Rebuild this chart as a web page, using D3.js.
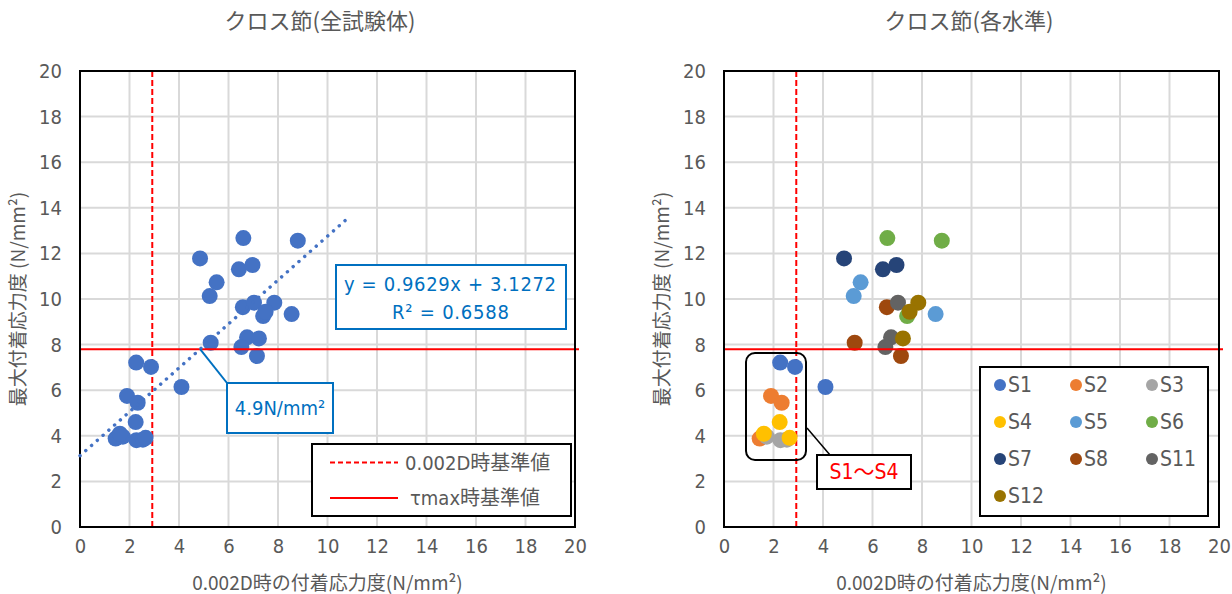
<!DOCTYPE html>
<html>
<head>
<meta charset="utf-8">
<script src="https://cdn.jsdelivr.net/npm/d3@7"></script>
<style>
  html, body { margin: 0; padding: 0; background: #ffffff; }
  svg { display: block; }
  text { font-family: "DejaVu Sans", "Noto Sans CJK JP", sans-serif; font-stretch: condensed; fill: #595959; }
  .cjk { font-family: "Noto Sans CJK JP", sans-serif; font-stretch: normal; }
</style>
</head>
<body>
<svg id="chart" width="1232" height="594"></svg>
<script>
// Series names and their colours
const seriesNames = ["S1", "S2", "S3", "S4", "S5", "S6", "S7", "S8", "S11", "S12"];
const seriesColors = ["#4472C4", "#ED7D31", "#A5A5A5", "#FFC000", "#5B9BD5",
                      "#70AD47", "#264478", "#9E480E", "#636363", "#997300"];

// Bond stress at 0.002D (x) and maximum bond stress (y), N/mm², per series
const xS1 = [2.27, 2.87, 4.10];   const yS1 = [7.21, 7.02, 6.14];
const xS2 = [1.90, 2.33, 1.44];   const yS2 = [5.75, 5.45, 3.88];
const xS3 = [1.73, 2.28, 2.54];   const yS3 = [3.96, 3.81, 3.83];
const xS4 = [2.25, 1.61, 2.65];   const yS4 = [4.60, 4.09, 3.91];
const xS5 = [5.52, 5.24, 8.55];   const yS5 = [10.73, 10.13, 9.34];
const xS6 = [6.60, 8.80, 7.40];   const yS6 = [12.67, 12.56, 9.25];
const xS7 = [4.85, 6.42, 6.97];   const yS7 = [11.78, 11.30, 11.49];
const xS8 = [6.58, 5.28, 7.15];   const yS8 = [9.64, 8.08, 7.50];
const xS11 = [7.03, 6.75, 6.52];  const yS11 = [9.84, 8.32, 7.89];
const xS12 = [7.85, 7.50, 7.23];  const yS12 = [9.84, 9.44, 8.27];

const xSeries = [xS1, xS2, xS3, xS4, xS5, xS6, xS7, xS8, xS11, xS12];
const ySeries = [yS1, yS2, yS3, yS4, yS5, yS6, yS7, yS8, yS11, yS12];

// Axis ticks
const tickValues = [0, 2, 4, 6, 8, 10, 12, 14, 16, 18, 20];

// Reference values and linear fit
const refX = 2.92;          // 0.002D reference value
const refY = 7.8;           // τmax reference value
const slope = 0.9629;
const intercept = 3.1272;
const trendRange = [0, 10.75];
const crossLabel = "4.9N/mm²";
const eqLine1 = "y = 0.9629x + 3.1272";
const eqLine2 = "R² = 0.6588";

const titles = ["クロス節(全試験体)", "クロス節(各水準)"];
const xTitle = "0.002D時の付着応力度(N/mm²)";
const yTitle = "最大付着応力度 (N/mm²)";
const legendRefLabels = ["0.002D時基準値", "τmax時基準値"];
const groupLabel = "S1～S4";

const svg = d3.select("#chart");
const plotTop = 71, plotBottom = 527, plotW = 495;

const points = [];
seriesNames.forEach((name, i) => {
  xSeries[i].forEach((xv, j) => points.push({ s: i, x: xv, y: ySeries[i][j] }));
});

function styleTicks(sel) {
  sel.selectAll("text").attr("font-size", 20).attr("fill", "#595959")
    .style("font-family", '"DejaVu Sans", sans-serif').style("font-stretch", "condensed");
}

function panel(x0, idx, titleX) {
  const g = svg.append("g");
  const x = d3.scaleLinear().domain([0, 20]).range([x0, x0 + plotW]);
  const y = d3.scaleLinear().domain([0, 20]).range([plotBottom, plotTop]);

  // grid
  g.append("g").selectAll("line").data(tickValues.slice(1, -1)).join("line")
    .attr("x1", d => x(d)).attr("x2", d => x(d))
    .attr("y1", plotTop).attr("y2", plotBottom)
    .attr("stroke", "#D9D9D9").attr("stroke-width", 2);
  g.append("g").selectAll("line").data(tickValues.slice(1, -1)).join("line")
    .attr("y1", d => y(d)).attr("y2", d => y(d))
    .attr("x1", x0).attr("x2", x0 + plotW)
    .attr("stroke", "#D9D9D9").attr("stroke-width", 2);

  // axes (labels only)
  const ax = g.append("g").attr("transform", `translate(0,${plotBottom})`)
    .call(d3.axisBottom(x).tickValues(tickValues).tickSize(0).tickPadding(12).tickFormat(d3.format("d")));
  ax.select(".domain").remove();
  styleTicks(ax);
  const ay = g.append("g").attr("transform", `translate(${x0 - 18},0)`)
    .call(d3.axisLeft(y).tickValues(tickValues).tickSize(0).tickPadding(0).tickFormat(d3.format("d")));
  ay.select(".domain").remove();
  styleTicks(ay);

  // 0.002D reference value
  g.append("line").attr("x1", x(refX)).attr("x2", x(refX))
    .attr("y1", plotTop).attr("y2", plotBottom)
    .attr("stroke", "#FF0000").attr("stroke-width", 2).attr("stroke-dasharray", "6,3");

  // markers
  g.append("g").selectAll("circle").data(points).join("circle")
    .attr("cx", d => x(d.x)).attr("cy", d => y(d.y)).attr("r", 8)
    .attr("fill", d => idx === 0 ? seriesColors[0] : seriesColors[d.s]);

  // τmax reference value
  g.append("line").attr("x1", x0).attr("x2", x0 + plotW + 4)
    .attr("y1", y(refY)).attr("y2", y(refY))
    .attr("stroke", "#FF0000").attr("stroke-width", 2);

  // plot frame
  g.append("rect").attr("x", x0).attr("y", plotTop).attr("width", plotW).attr("height", plotBottom - plotTop)
    .attr("fill", "none").attr("stroke", "#000").attr("stroke-width", 2);

  // titles
  g.append("text").attr("class", "cjk").attr("x", titleX).attr("y", 29).attr("text-anchor", "middle")
    .attr("font-size", 22).text(titles[idx]);
  g.append("text").attr("class", "cjk").attr("x", x0 + plotW / 2).attr("y", 590).attr("text-anchor", "middle")
    .attr("font-size", 19).text(xTitle);
  g.append("text").attr("class", "cjk")
    .attr("transform", `translate(${x0 - 55},${(plotTop + plotBottom) / 2}) rotate(-90)`)
    .attr("text-anchor", "middle").attr("font-size", 19).text(yTitle);

  return { g, x, y };
}

// ---- left panel: all specimens with linear fit ----
const L = panel(80, 0, 320);
const trend = d3.line().x(d => L.x(d)).y(d => L.y(slope * d + intercept));
L.g.append("path").attr("d", trend(trendRange)).attr("fill", "none")
  .attr("stroke", "#4472C4").attr("stroke-width", 3.4)
  .attr("stroke-linecap", "round").attr("stroke-dasharray", "0.1,7.6");

// crossing point of the fit with the τmax reference value
const xCross = (refY - intercept) / slope;
L.g.append("line").attr("x1", L.x(xCross)).attr("y1", L.y(refY))
  .attr("x2", 227).attr("y2", 383).attr("stroke", "#0070C0").attr("stroke-width", 2);
L.g.append("rect").attr("x", 227).attr("y", 383).attr("width", 106).attr("height", 50)
  .attr("fill", "#fff").attr("stroke", "#0070C0").attr("stroke-width", 2);
L.g.append("text").attr("x", 280).attr("y", 415).attr("text-anchor", "middle")
  .attr("font-size", 20).style("fill", "#0070C0").text(crossLabel);

// fit equation box
L.g.append("rect").attr("x", 336).attr("y", 265).attr("width", 230).attr("height", 64)
  .attr("fill", "#fff").attr("stroke", "#0070C0").attr("stroke-width", 2);
L.g.append("text").attr("x", 344).attr("y", 291)
  .attr("textLength", 212).attr("lengthAdjust", "spacing")
  .attr("font-size", 20).style("fill", "#0070C0").text(eqLine1);
L.g.append("text").attr("x", 392).attr("y", 319)
  .attr("textLength", 117).attr("lengthAdjust", "spacing")
  .attr("font-size", 20).style("fill", "#0070C0").text(eqLine2);

// reference-line legend
L.g.append("rect").attr("x", 312).attr("y", 444).attr("width", 259).attr("height", 72)
  .attr("fill", "#fff").attr("stroke", "#000").attr("stroke-width", 2);
[0, 1].forEach(i => {
  const ly = i === 0 ? 462.5 : 498;
  L.g.append("line").attr("x1", 330).attr("x2", 398).attr("y1", ly).attr("y2", ly)
    .attr("stroke", "#FF0000").attr("stroke-width", 2)
    .attr("stroke-dasharray", i === 0 ? "5,3" : null);
  L.g.append("text").attr("x", i === 0 ? 405 : 410).attr("y", ly + 7)
    .attr("font-size", 20).text(legendRefLabels[i]);
});

// ---- right panel: by series ----
const R = panel(724, 1, 969);

// S1-S4 group callout
R.g.append("rect").attr("x", 746).attr("y", 353).attr("width", 60).attr("height", 107)
  .attr("rx", 9).attr("ry", 9).attr("fill", "none").attr("stroke", "#000").attr("stroke-width", 2);
R.g.append("line").attr("x1", 807).attr("y1", 428).attr("x2", 830).attr("y2", 455)
  .attr("stroke", "#000").attr("stroke-width", 1.5);
R.g.append("rect").attr("x", 817).attr("y", 455).attr("width", 94).attr("height", 34)
  .attr("fill", "#fff").attr("stroke", "#000").attr("stroke-width", 2);
R.g.append("text").attr("x", 864).attr("y", 479).attr("text-anchor", "middle")
  .attr("font-size", 21).style("fill", "#FF0000").text(groupLabel);

// series legend
R.g.append("rect").attr("x", 980).attr("y", 367).attr("width", 228).attr("height", 149)
  .attr("fill", "#fff").attr("stroke", "#000").attr("stroke-width", 2);
const colX = [1000, 1076, 1152];
const rowY = [385, 422, 459, 496];
seriesNames.forEach((name, i) => {
  const cx = colX[i % 3], cy = rowY[Math.floor(i / 3)];
  R.g.append("circle").attr("cx", cx).attr("cy", cy).attr("r", 6).attr("fill", seriesColors[i]);
  R.g.append("text").attr("x", cx + 8).attr("y", cy + 7).attr("font-size", 21).text(name);
});
</script>
</body>
</html>
